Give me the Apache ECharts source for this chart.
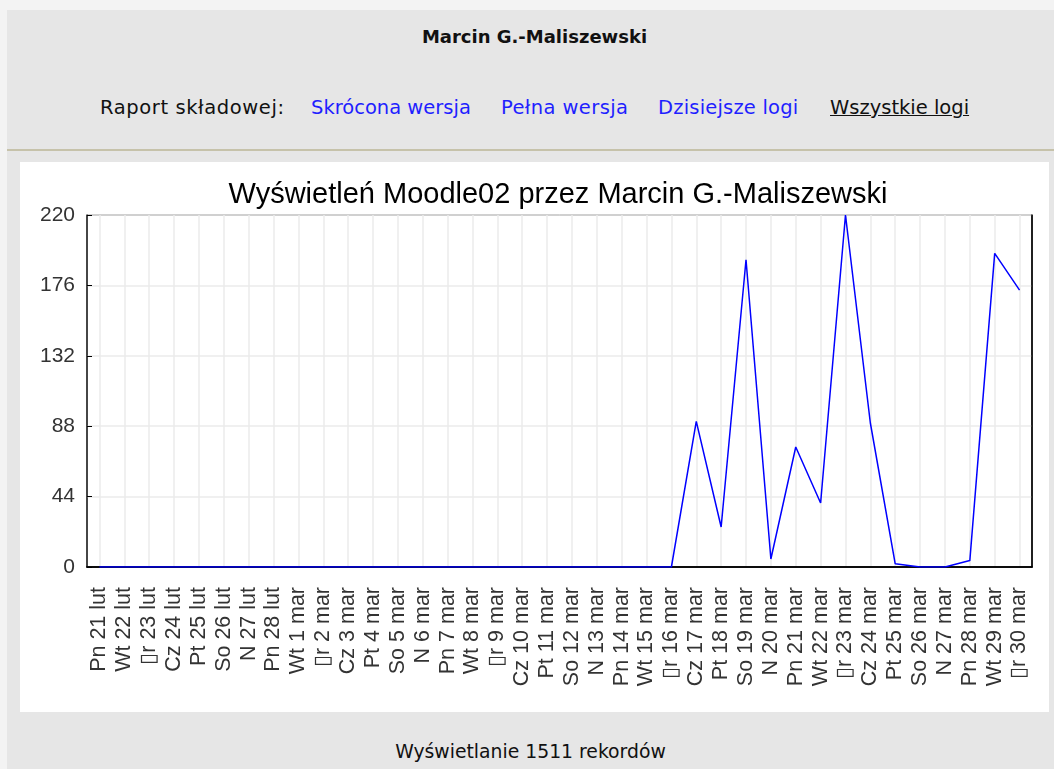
<!DOCTYPE html>
<html>
<head>
<meta charset="utf-8">
<script src="https://cdn.jsdelivr.net/npm/echarts@6/dist/echarts.min.js"></script>
<style>
    html, body { margin: 0; padding: 0; background: #f3f3f3; width: 1054px; height: 769px; overflow: hidden; }
    #page { position: absolute; left: 7px; top: 10px; right: 0; bottom: 0; background: #e6e6e6; font-family: "DejaVu Sans", sans-serif; color: #111; }
    #who { position: absolute; left: 13px; width: 1029px; top: 16px; text-align: center; font-weight: bold; font-size: 18px; }
    #nav span { position: absolute; top: 86px; font-size: 19.5px; white-space: nowrap; }
    #nav .lnk { color: #1f1fff; }
    #nav .cur { text-decoration: underline; color: #111; }
    #sep { position: absolute; left: 0; right: 0; top: 139px; height: 2px; background: #c6c2aa; }
    #chart { position: absolute; left: 13px; top: 152px; width: 1029px; height: 550px; background: #fff; }
    #foot { position: absolute; left: 0; width: 1047px; top: 731px; text-align: center; font-size: 18.8px; }
</style>
</head>
<body>
<div id="page">
    <div id="who">Marcin G.-Maliszewski</div>
    <div id="nav">
        <span style="left:93px; letter-spacing:0.6px">Raport składowej:</span>
        <span class="lnk" style="left:304px">Skrócona wersja</span>
        <span class="lnk" style="left:494px; letter-spacing:0.4px">Pełna wersja</span>
        <span class="lnk" style="left:651px; letter-spacing:0.2px">Dzisiejsze logi</span>
        <span class="cur" style="left:823px">Wszystkie logi</span>
    </div>
    <div id="sep"></div>
    <div id="chart"></div>
    <div id="foot">Wyświetlanie 1511 rekordów</div>
</div>
<script>
// dni (etykiety osi X)
var days = [
    'Pn 21 lut', 'Wt 22 lut', '\u25AFr 23 lut', 'Cz 24 lut', 'Pt 25 lut', 'So 26 lut', 'N 27 lut', 'Pn 28 lut',
    'Wt 1 mar', '\u25AFr 2 mar', 'Cz 3 mar', 'Pt 4 mar', 'So 5 mar', 'N 6 mar', 'Pn 7 mar', 'Wt 8 mar',
    '\u25AFr 9 mar', 'Cz 10 mar', 'Pt 11 mar', 'So 12 mar', 'N 13 mar', 'Pn 14 mar', 'Wt 15 mar', '\u25AFr 16 mar',
    'Cz 17 mar', 'Pt 18 mar', 'So 19 mar', 'N 20 mar', 'Pn 21 mar', 'Wt 22 mar', '\u25AFr 23 mar', 'Cz 24 mar',
    'Pt 25 mar', 'So 26 mar', 'N 27 mar', 'Pn 28 mar', 'Wt 29 mar', '\u25AFr 30 mar'
];
// wyświetlenia na dzień
var views = [
    0, 0, 0, 0, 0, 0, 0, 0,
    0, 0, 0, 0, 0, 0, 0, 0,
    0, 0, 0, 0, 0, 0, 0, 0,
    91, 25, 192, 5, 75, 40, 220, 90,
    2, 0, 0, 4, 196, 173
];
var yMax = 220;
var yStep = 44;

var chart = echarts.init(document.getElementById('chart'));
var option = {
    animation: false,
    title: {
        text: 'Wyświetleń Moodle02 przez Marcin G.-Maliszewski',
        left: 533,
        top: 13,
        textAlign: 'center',
        textStyle: { fontFamily: 'Liberation Sans', fontSize: 29, fontWeight: 'normal', color: '#000' }
    },
    grid: {
        left: 67, top: 53, width: 945, height: 352,
        show: true, borderColor: '#000', borderWidth: 1, backgroundColor: 'transparent'
    },
    xAxis: [{
        type: 'category',
        data: days,
        boundaryGap: true,
        z: 1,
        axisLine: { lineStyle: { color: '#000', width: 1.5 } },
        axisTick: { inside: true, alignWithLabel: true, length: 5, lineStyle: { color: '#000' } },
        axisLabel: { interval: 0, rotate: 90, margin: 20, fontFamily: 'Liberation Sans', fontSize: 21.5, color: '#333' },
        splitLine: { show: true, alignWithLabel: true, interval: 0, lineStyle: { color: '#ebebeb', width: 1.5 } }
    }, {
        // górna krawędź ramki
        type: 'category',
        data: days,
        position: 'top',
        z: 3,
        axisLine: { lineStyle: { color: '#000', width: 1.5 } },
        axisTick: { show: false },
        axisLabel: { show: false },
        splitLine: { show: false }
    }],
    yAxis: [{
        type: 'value',
        min: 0,
        max: yMax,
        interval: yStep,
        z: 1,
        axisLine: { show: true, lineStyle: { color: '#333', width: 1.5 } },
        axisTick: { show: true, inside: true, length: 5, lineStyle: { color: '#000' } },
        axisLabel: { margin: 12, fontFamily: 'Liberation Sans', fontSize: 21, color: '#333' },
        splitLine: { show: true, lineStyle: { color: '#ebebeb', width: 1.5 } }
    }, {
        // prawa krawędź ramki
        type: 'value',
        min: 0,
        max: yMax,
        interval: yStep,
        position: 'right',
        z: 3,
        axisLine: { show: true, lineStyle: { color: '#000', width: 1.5 } },
        axisTick: { show: false },
        axisLabel: { show: false },
        splitLine: { show: false }
    }],
    series: [{
        type: 'line',
        data: views,
        symbol: 'none',
        z: 4,
        lineStyle: { color: '#0000ff', width: 1.5 }
    }]
};
chart.setOption(option);
</script>
</body>
</html>
